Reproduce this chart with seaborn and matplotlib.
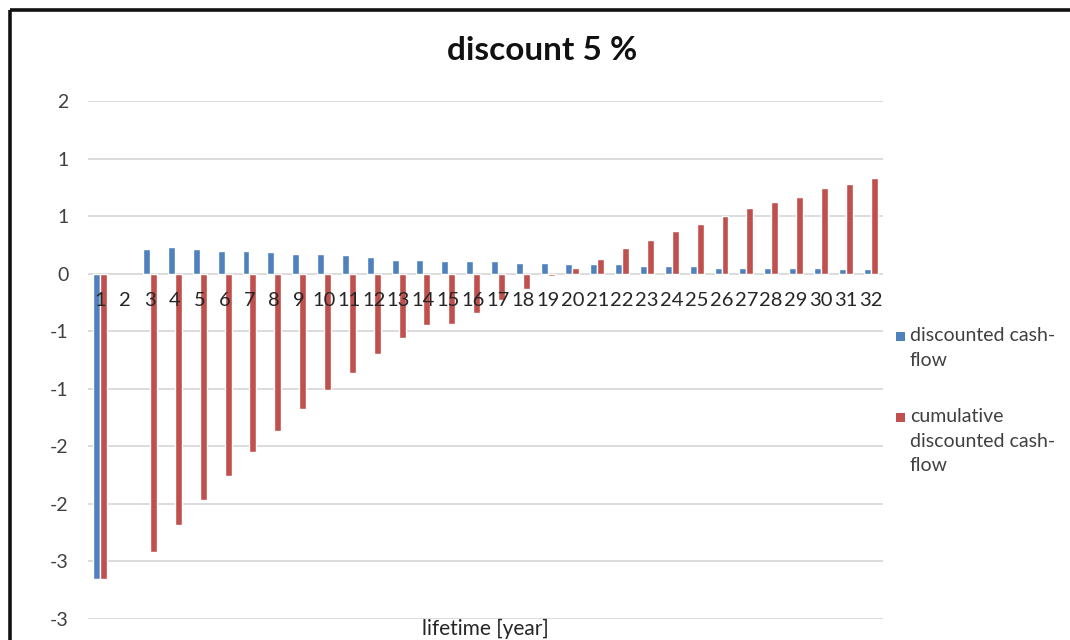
import numpy as np
import pandas as pd
import matplotlib
matplotlib.use("Agg")
import matplotlib.pyplot as plt
from matplotlib.lines import Line2D
from matplotlib.patches import Rectangle
import seaborn as sns

# Project years and discounted cash-flow series (5 % discount rate)
years = list(range(1, 33))
discounted_cash_flow = [
    -2.65, np.nan, 0.21, 0.23, 0.21, 0.20, 0.20, 0.19, 0.17, 0.17,
    0.16, 0.145, 0.12, 0.12, 0.11, 0.11, 0.11, 0.095, 0.095, 0.08,
    0.08, 0.08, 0.065, 0.065, 0.065, 0.05, 0.05, 0.05, 0.05, 0.05,
    0.04, 0.04,
]
cumulative_discounted_cash_flow = [
    -2.65, np.nan, -2.42, -2.18, -1.97, -1.76, -1.55, -1.37, -1.18, -1.01,
    -0.86, -0.70, -0.56, -0.45, -0.44, -0.34, -0.23, -0.13, -0.02, 0.05,
    0.13, 0.22, 0.29, 0.37, 0.43, 0.50, 0.57, 0.62, 0.67, 0.74,
    0.78, 0.83,
]
series_names = ["discounted cash-\nflow", "cumulative\ndiscounted cash-\nflow"]
series_colors = ["#4F81BD", "#C0504D"]
ytick_values = [-3.0, -2.5, -2.0, -1.5, -1.0, -0.5, 0.0, 0.5, 1.0, 1.5]
ytick_labels = ["-3", "-3", "-2", "-2", "-1", "-1", "0", "1", "1", "2"]
title = "discount 5 %"
xlabel = "lifetime [year]"

df = pd.DataFrame({
    "year": [str(y) for y in years] * 2,
    "value": discounted_cash_flow + cumulative_discounted_cash_flow,
    "series": [series_names[0]] * len(years) + [series_names[1]] * len(years),
})

sns.set_theme(style="white")
plt.rcParams["font.family"] = ["Lato", "DejaVu Sans"]

W, H = 1070, 640
fig = plt.figure(figsize=(W / 100, H / 100), dpi=100)
fig.patch.set_facecolor("white")

ax_left, ax_right, ax_top, ax_bottom = 88, 883, 101, 619
ax = fig.add_axes([ax_left / W, 1 - ax_bottom / H,
                   (ax_right - ax_left) / W, (ax_bottom - ax_top) / H])

palette = dict(zip(series_names, series_colors))
sns.barplot(data=df, x="year", y="value", hue="series", order=[str(y) for y in years],
            palette=palette, width=0.56, gap=0, saturation=1, ax=ax, legend=False)

ax.set_xlim(-0.5, len(years) - 0.5)
ax.set_ylim(-3.0, 1.5)
ax.set_yticks(ytick_values)
ax.set_yticklabels(ytick_labels)
ax.yaxis.grid(True, color="#d9d9d9", linewidth=1.3)
ax.set_axisbelow(True)
# category labels sit on the zero line, drawn over the bars
ax.xaxis.set_zorder(3)
for side in ["top", "right", "left"]:
    ax.spines[side].set_visible(False)
ax.spines["bottom"].set_position(("data", 0))
ax.spines["bottom"].set_visible(False)
ax.tick_params(axis="y", length=0, pad=14, labelsize=14, labelcolor="#404040")
ax.tick_params(axis="x", length=0, pad=13, labelsize=14.5, labelcolor="#262626")
ax.set_ylabel("")
ax.set_xlabel(xlabel, fontsize=15, color="#262626")
ax.xaxis.set_label_coords(0.5, 0.0)

# legend to the right of the plot area
leg_tops = [330, 411]
for name, color, top in zip(series_names, series_colors, leg_tops):
    fig.add_artist(Rectangle((896 / W, 1 - (top + 11) / H), 9 / W, 9 / H,
                             facecolor=color, edgecolor="none",
                             transform=fig.transFigure))
    fig.text(910 / W, 1 - (top - 3) / H, name, ha="left", va="top",
             fontsize=14, color="#404040", linespacing=1.55)

fig.text(542 / W, 1 - 50 / H, title, ha="center", va="center",
         fontsize=24, fontweight="bold", color="#111111")

# Chart frame along the top and left edges
fig.add_artist(Line2D([10 / W, 1.0], [1 - 10 / H, 1 - 10 / H], color="#111111",
                      linewidth=2.6, transform=fig.transFigure, solid_capstyle="butt"))
fig.add_artist(Line2D([10 / W, 10 / W], [0.0, 1 - 10 / H], color="#111111",
                      linewidth=2.6, transform=fig.transFigure, solid_capstyle="butt"))

fig.savefig("out.png", dpi=100)
